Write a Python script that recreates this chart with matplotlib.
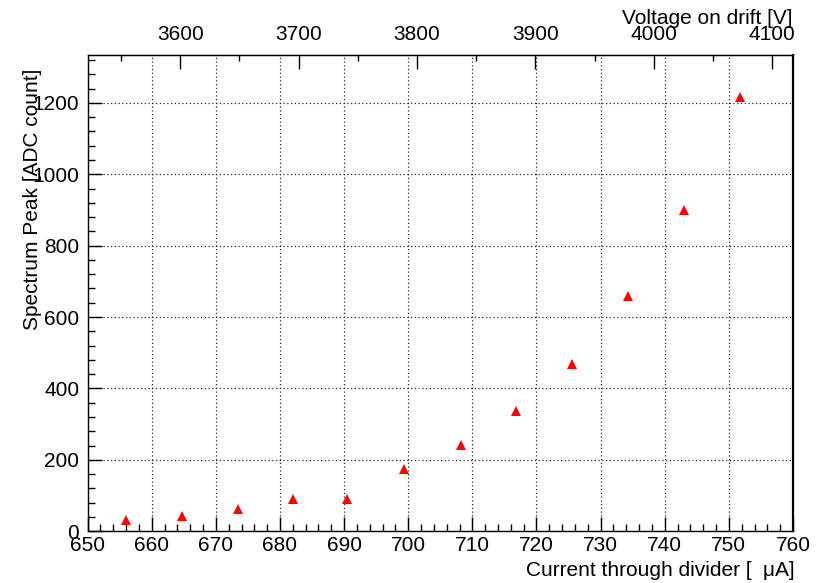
import matplotlib

matplotlib.use("Agg")
import matplotlib.pyplot as plt
from matplotlib.ticker import MultipleLocator

plt.rcParams["font.family"] = ["Liberation Sans", "DejaVu Sans"]

# divider current [uA] and the spectrum peak position [ADC count]
current_ua = [656.0, 664.7, 673.4, 682.1, 690.5, 699.3, 708.2, 716.8, 725.5, 734.3, 743.0, 751.8]
peak_adc = [32, 43, 63, 90, 90, 174, 242, 338, 468, 659, 900, 1217]

# drift voltage per uA of divider current (V / uA)
volts_per_ua = 5.418

fig = plt.figure(figsize=(8.25, 5.83), dpi=100)
ax = fig.add_axes([0.1062, 0.0887, 0.855, 0.8170])

ax.plot(current_ua, peak_adc, linestyle="none", marker="^", markersize=7.5,
        color="#ff0000", markeredgewidth=0)

ax.set_xlim(650, 760)
ax.set_ylim(0, 1334)

ax.xaxis.set_major_locator(MultipleLocator(10))
ax.xaxis.set_minor_locator(MultipleLocator(2))
ax.yaxis.set_major_locator(MultipleLocator(200))
ax.yaxis.set_minor_locator(MultipleLocator(40))

ax.tick_params(axis="both", which="both", direction="in", top=False, right=False,
               labelsize=15, width=1.0, color="black")
ax.tick_params(axis="both", which="major", length=10)
ax.tick_params(axis="both", which="minor", length=5)
ax.tick_params(axis="x", pad=3.5)
ax.tick_params(axis="y", pad=6)

ax.grid(True, which="major", linestyle=(0, (1, 2)), color="0.15", linewidth=0.9)
for spine in ax.spines.values():
    spine.set_linewidth(1.0)
ax.spines["right"].set_linewidth(1.6)

ax.set_xlabel("Current through divider [  μA]", fontsize=15, loc="right")
ax.xaxis.set_label_coords(1.002, -0.062)
ax.set_ylabel("Spectrum Peak [ADC count]", fontsize=15, loc="top")
ax.yaxis.set_label_coords(-0.0646, 0.972)

top = ax.secondary_xaxis("top", functions=(lambda i: i * volts_per_ua,
                                            lambda v: v / volts_per_ua))
top.xaxis.set_major_locator(MultipleLocator(100))
top.xaxis.set_minor_locator(MultipleLocator(50))
top.tick_params(axis="x", which="both", direction="in", labelsize=15, width=1.0, pad=8)
top.tick_params(axis="x", which="major", length=10)
top.tick_params(axis="x", which="minor", length=4.5)
top.set_xlabel("Voltage on drift [V]", fontsize=15, loc="right", labelpad=0.5)

fig.savefig("out.png")
